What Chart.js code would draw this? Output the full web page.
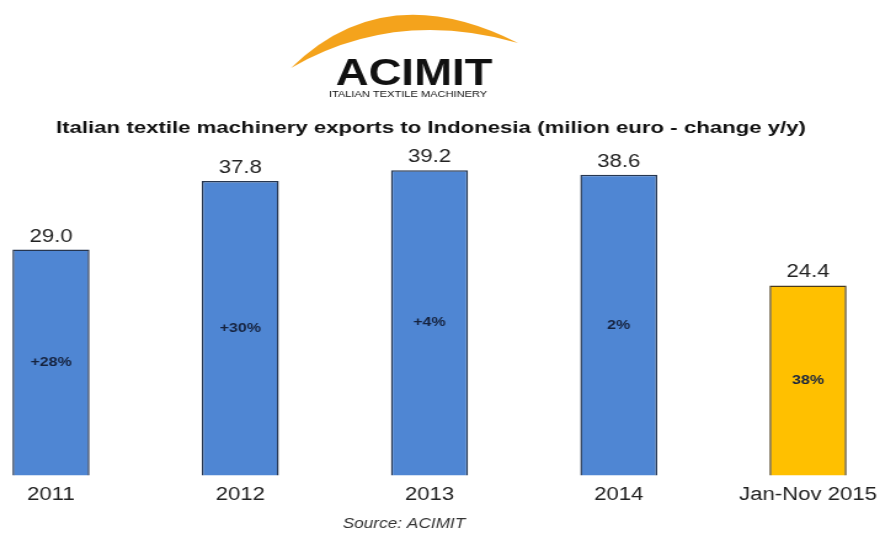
<!DOCTYPE html>
<html>
<head>
<meta charset="utf-8">
<script src="https://cdn.jsdelivr.net/npm/chart.js@4.4.1/dist/chart.umd.min.js"></script>
<style>
  html, body { margin: 0; padding: 0; background: #fff; }
  #wrap { width: 880px; height: 536px; position: relative; }
  /* the source picture is stretched sideways, so the canvas is too */
  #myChart { width: 880px; height: 536px; display: block; }
</style>
</head>
<body>
<div id="wrap"><canvas id="myChart" width="715" height="536" style="width:880px;height:536px"></canvas></div>
<script>
// Categories and values
const labels = ['2011', '2012', '2013', '2014', 'Jan-Nov 2015'];
const exports = [29.0, 37.8, 39.2, 38.6, 24.4];
const changes = ['+28%', '+30%', '+4%', '2%', '38%'];
const barColors = ['#4f86d3', '#4f86d3', '#4f86d3', '#4f86d3', '#ffc000'];
const borderColors = ['#263650', '#263650', '#263650', '#263650', '#4a3b1c'];

const FONT = '"Liberation Sans", Arial, sans-serif';
const K = 880 / 715;          // horizontal stretch of the canvas
const px = x => x / K;        // page x -> canvas x

// Logo, title, source and the labels on the bars
const decorations = {
    id: 'decorations',
    afterDatasetsDraw(chart) {
        const c = chart.ctx;
        const meta = chart.getDatasetMeta(0);
        c.save();

        // value above each bar, change inside each bar
        meta.data.forEach((bar, i) => {
            c.textAlign = 'center';
            c.textBaseline = 'alphabetic';
            c.fillStyle = '#222';
            c.font = '18px ' + FONT;
            c.fillText(exports[i].toFixed(1), bar.x, bar.y - 8);

            c.fillStyle = '#16233f';
            c.font = 'bold 13px ' + FONT;
            c.textBaseline = 'middle';
            c.fillText(changes[i], bar.x, (bar.y + bar.base) / 2);
        });

        // orange swoosh of the logo
        c.fillStyle = '#f4a31c';
        c.beginPath();
        c.moveTo(px(291), 68);
        c.quadraticCurveTo(px(385), -24, px(518), 43);
        c.quadraticCurveTo(px(395), 8, px(291), 68);
        c.fill();

        c.fillStyle = '#111';
        c.textAlign = 'center';
        c.textBaseline = 'alphabetic';
        c.font = 'bold 37px ' + FONT;
        c.fillText('ACIMIT', px(414), 85);
        c.font = '9px ' + FONT;
        c.fillText('ITALIAN TEXTILE MACHINERY', px(408), 97, px(169));

        // title, fitted to the width it has in the picture
        const title = 'Italian textile machinery exports to Indonesia (milion euro - change y/y)';
        c.font = 'bold 16.5px ' + FONT;
        const w = c.measureText(title).width;
        c.save();
        c.translate(px(431), 133);
        c.scale(px(750) / w, 1);
        c.fillText(title, 0, 0);
        c.restore();

        // source
        c.font = 'italic 14px ' + FONT;
        c.fillStyle = '#333';
        c.fillText('Source: ACIMIT', px(404), 528);
        c.restore();
    }
};

const ctx = document.getElementById('myChart').getContext('2d');

const chart = new Chart(ctx, {
    type: 'bar',
    data: {
        labels: labels,
        datasets: [{
            data: exports,
            backgroundColor: barColors,
            borderColor: borderColors,
            borderWidth: 1.5,
            barPercentage: 0.407,
            categoryPercentage: 1,
            clip: false
        }]
    },
    options: {
        responsive: false,
        animation: false,
        events: [],
        layout: {
            padding: { top: 125, left: px(51), right: 715 - px(808), bottom: 21 }
        },
        scales: {
            x: {
                offset: false,
                grid: { display: false, drawTicks: false },
                border: { display: false },
                ticks: {
                    color: '#222',
                    font: { family: FONT, size: 18 },
                    padding: 9,
                    maxRotation: 0,
                    autoSkip: false
                },
                // let the outer labels hang over the edges like in the picture
                afterFit(scale) {
                    scale.paddingLeft = 0;
                    scale.paddingRight = 0;
                }
            },
            y: {
                display: false,
                min: 0,
                max: 45
            }
        },
        plugins: {
            legend: { display: false },
            tooltip: { enabled: false }
        }
    },
    plugins: [decorations]
});
</script>
</body>
</html>
